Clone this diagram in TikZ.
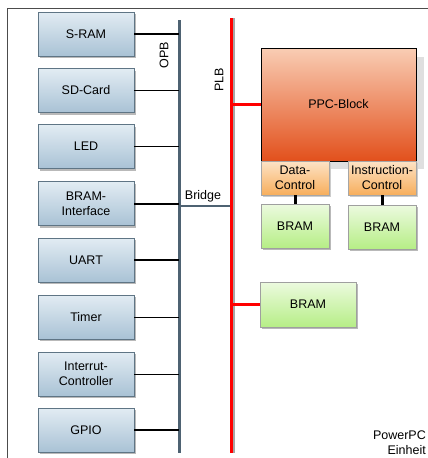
\documentclass[tikz,border=0pt]{standalone}
\usepackage{fontspec}
\setmainfont{Liberation Sans}
\usetikzlibrary{shadows}
\definecolor{bluetop}{HTML}{E2ECF3}
\definecolor{bluebot}{HTML}{A9C2D5}
\definecolor{blueedge}{HTML}{5F7585}
\definecolor{busgray}{HTML}{4E6272}
\definecolor{ppctop}{HTML}{F9CDB4}
\definecolor{ppcbot}{HTML}{E2501C}
\definecolor{ctltop}{HTML}{FDE3C6}
\definecolor{ctlbot}{HTML}{F7AE5C}
\definecolor{grntop}{HTML}{ECFADF}
\definecolor{grnbot}{HTML}{B6EE86}
\definecolor{plbred}{HTML}{FF0000}
\begin{document}
\begin{tikzpicture}[x=1pt,y=-1pt,
  every node/.style={font=\fontsize{12.5}{14}\selectfont, inner sep=0pt},
  bluebox/.style={draw=blueedge, top color=bluetop, bottom color=bluebot, minimum width=96pt, minimum height=44pt, align=center,
    drop shadow={shadow xshift=2pt, shadow yshift=-2pt, fill=gray!55, opacity=1}},
  ctlbox/.style={draw=gray!70, top color=ctltop, bottom color=ctlbot, minimum width=68pt, minimum height=34pt, align=center,
    drop shadow={shadow xshift=2pt, shadow yshift=-2pt, fill=gray!40, opacity=1}},
  grnbox/.style={draw=gray!75, top color=grntop, bottom color=grnbot, minimum height=44pt, align=center,
    drop shadow={shadow xshift=2pt, shadow yshift=-2pt, fill=gray!55, opacity=1}},
  thickcon/.style={line width=2pt, black},
  thincon/.style={line width=1pt, black},
  buslbl/.style={rotate=90},
  foot/.style={anchor=east, font=\fontsize{12.5}{14}\selectfont}
]
\useasboundingbox (0,0) rectangle (428,458);
\clip (0,0) rectangle (428,458);
% frame
\draw[line width=1pt, black!70] (7,458) -- (7,8) -- (428,8);

% OPB bus
\coordinate (opbtop) at (179,20);
\coordinate (opbbot) at (179,453);
\draw[line width=3pt, busgray] (opbtop) -- (opbbot);
\node[buslbl] (opbl) at (164,55) {OPB};

% PLB bus with shadow
\coordinate (plbtop) at (231.5,18);
\coordinate (plbbot) at (231.5,453);
\draw[line width=2pt, gray!70] ([xshift=2.5pt]plbtop) -- ([xshift=2.5pt]plbbot);
\draw[line width=3.5pt, plbred] (plbtop) -- (plbbot);
\node[buslbl] (plbl) at (219,80) {PLB};

% left boxes
\node[bluebox] (sram) at (86,34) {S-RAM};
\node[bluebox] (sd) at (86,90.5) {SD-Card};
\node[bluebox] (led) at (86,146.5) {LED};
\node[bluebox] (bri) at (86,203.5) {BRAM-\\[1pt]Interface};
\node[bluebox] (uart) at (86,260) {UART};
\node[bluebox] (timer) at (86,317) {Timer};
\node[bluebox] (intc) at (86,374) {Interrut-\\[1pt]Controller};
\node[bluebox] (gpio) at (86,430) {GPIO};

\draw[thickcon] (sram.east) -- (sram.east -| opbtop);
\draw[thincon] (sd.east) -- (sd.east -| opbtop);
\draw[thincon] (led.east) -- (led.east -| opbtop);
\draw[thickcon] (bri.east) -- (bri.east -| opbtop);
\draw[thickcon] (uart.east) -- (uart.east -| opbtop);
\draw[thincon] (timer.east) -- (timer.east -| opbtop);
\draw[thincon] (intc.east) -- (intc.east -| opbtop);
\draw[thickcon] (gpio.east) -- (gpio.east -| opbtop);

% Bridge
\coordinate (brl) at (179,206);
\coordinate (brr) at (230,206);
\draw[line width=2pt, busgray] (brl) -- (brr);
\node[anchor=south] (bridgel) at (203,202) {Bridge};

% PPC block
\fill[gray!25] (269,57) rectangle (424,169);
\node[draw=black, line width=1pt, top color=ppctop, bottom color=ppcbot, minimum width=155pt, minimum height=113pt] (ppc) at (338.5,104.5) {PPC-Block};
\draw[line width=3.5pt, plbred] (plbtop |- ppc.west) -- (ppc.west);

% control boxes
\node[ctlbox] (dc) at (295,178) {Data-\\[1pt]Control};
\node[ctlbox] (ic) at (382,178) {Instruction-\\[1pt]Control};

% BRAMs
\node[grnbox, minimum width=68pt] (b1) at (295,226) {BRAM};
\node[grnbox, minimum width=68pt] (b2) at (382,227) {BRAM};
\draw[line width=3pt, black] (dc.south) -- (b1.north);
\draw[line width=3pt, black] (ic.south) -- (b2.north);

\node[grnbox, minimum width=96pt, minimum height=45pt] (b3) at (308,304.5) {BRAM};
\draw[line width=3.5pt, plbred] (plbtop |- b3.west) -- (b3.west);

% footer text
\node[foot] (ppce1) at (426,435) {PowerPC};
\node[foot] (ppce2) at (426,450) {Einheit};
\end{tikzpicture}
\end{document}
